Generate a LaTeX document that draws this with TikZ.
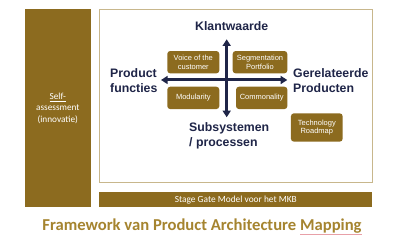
\documentclass[tikz,border=0pt]{standalone}
\usepackage{fontspec}
\setmainfont{Carlito}
\newfontfamily\arialfont{Liberation Sans}
\usetikzlibrary{positioning, arrows.meta}
\definecolor{pamgold}{HTML}{8C6B1F}
\definecolor{pamtitle}{HTML}{A5842F}
\definecolor{pamnavy}{HTML}{1F2548}
\definecolor{pamframe}{HTML}{C8B78C}
\definecolor{pampink}{HTML}{E8A0A8}

\begin{document}
\begin{tikzpicture}[
  x=0.3mm, y=-0.3mm,
  goldbox/.style={fill=pamgold, rounded corners=2.5pt, text=white, align=center,
    font=\arialfont\fontsize{6.4}{7.3}\selectfont, inner sep=1pt},
  axislabel/.style={text=pamnavy, align=left, inner sep=0pt,
    font=\arialfont\bfseries\fontsize{10.5}{12.8}\selectfont},
  axis/.style={{Triangle[width=2.4mm, length=2mm]}-{Triangle[width=2.4mm, length=2mm]},
    line width=0.9mm, pamnavy}
]
\useasboundingbox (0,0) rectangle (400,243);
% frames
\node[fill=pamgold, minimum width=19.7mm, minimum height=59.4mm, inner sep=0pt,
  text=white, align=center, font=\fontsize{7.9}{9.8}\selectfont] (self) at (57.8,108)
  {\underline{Self-}\\assessment\\(innovatie)};
\draw[pamframe, line width=0.4mm, fill=white] (99.3,9.3) rectangle (372.3,182.3);
\node[fill=pamgold, minimum width=81.9mm, minimum height=4.5mm, inner sep=0pt,
  text=white, font=\fontsize{8}{9}\selectfont] (stage) at (235.8,199.8)
  {Stage Gate Model voor het MKB};

% axes
\coordinate (top) at (226.7,39.3);
\coordinate (bottom) at (226.7,117.3);
\coordinate (left) at (161,80);
\coordinate (right) at (287.3,80);
\draw[axis] (bottom) -- (top);
\draw[axis] (left) -- (right);

% axis labels
\node[axislabel] (klant) at (231.7,26) {Klantwaarde};
\node[axislabel, anchor=west] (functies) at (110,81) {Product\\functies};
\node[axislabel, anchor=west] (gerel) at (293,81) {Gerelateerde\\Producten};
\node[axislabel, anchor=west] (subsys) at (189,136) {Subsystemen\\/ processen};

% quadrant boxes
\node[goldbox, minimum width=15.6mm, minimum height=6.7mm] (voice) at (193.3,62.2) {Voice of the\\customer};
\node[goldbox, minimum width=16.4mm, minimum height=6.7mm] (segm) at (260,62.2) {Segmentation\\Portfolio};
\node[goldbox, minimum width=15.6mm, minimum height=6.7mm] (modul) at (193.3,97.9) {Modularity};
\node[goldbox, minimum width=15.4mm, minimum height=6.7mm] (common) at (261.7,97.9) {Commonality};
\node[goldbox, minimum width=15.5mm, minimum height=8.5mm] (roadmap) at (316.8,127.5) {Technology\\Roadmap};

% title
\node[text=pamtitle, font=\bfseries\fontsize{14.2}{16}\selectfont] (title) at (202,227)
  {Framework van Product Architecture {\color{pampink}\underline{\color{pamtitle}Mapping}}};
\end{tikzpicture}
\end{document}
